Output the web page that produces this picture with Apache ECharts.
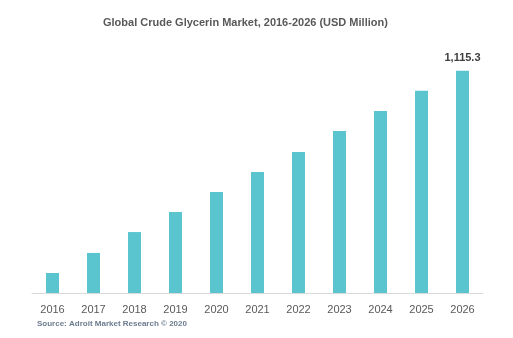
<!DOCTYPE html>
<html>
<head>
<meta charset="utf-8">
<script src="https://cdn.jsdelivr.net/npm/echarts@6/dist/echarts.min.js"></script>
<style>html,body{margin:0;padding:0;background:#fff;}#c{width:513px;height:338px;}</style>
</head>
<body>
<div id="c"></div>
<script>
var categories = ['2016','2017','2018','2019','2020','2021','2022','2023','2024','2025','2026'];
var values = [100.5, 201, 306, 407, 507, 608, 708, 814, 914, 1015, 1115.3];
var labelText = '1,115.3';

var chart = echarts.init(document.getElementById('c'), null, {renderer: 'canvas'});
chart.setOption({
  animation: false,
  backgroundColor: '#ffffff',
  title: {
    text: 'Global Crude Glycerin Market, 2016-2026 (USD Million)',
    left: 103,
    top: 17,
    padding: 0,
    textStyle: {fontFamily: 'Liberation Sans', fontSize: 11, fontWeight: 'bold', color: '#595959'}
  },
  graphic: [{
    type: 'text', left: 37, top: 320,
    style: {text: 'Source: Adroit Market Research © 2020', fontFamily: 'Liberation Sans', fontSize: 8, fontWeight: 'bold', fill: '#6b7c8f'}
  }],
  grid: {left: 32, right: 30, top: 54, bottom: 45},
  xAxis: {
    type: 'category',
    data: categories,
    axisLine: {lineStyle: {color: '#d9d9d9', width: 1}},
    axisTick: {show: false},
    axisLabel: {fontFamily: 'Liberation Sans', fontSize: 11, color: '#595959', margin: 11}
  },
  yAxis: {
    type: 'value', min: 0, max: 1200,
    show: false,
    splitLine: {show: false}
  },
  series: [{
    type: 'bar',
    data: values.map(function(v, i){
      return {value: v, label: {show: i === values.length - 1, formatter: labelText}};
    }),
    barWidth: 13,
    itemStyle: {color: '#5bc5cf'},
    label: {position: 'top', distance: 7, fontFamily: 'Liberation Sans', fontSize: 11, fontWeight: 'bold', color: '#404040'}
  }]
});
</script>
</body>
</html>
